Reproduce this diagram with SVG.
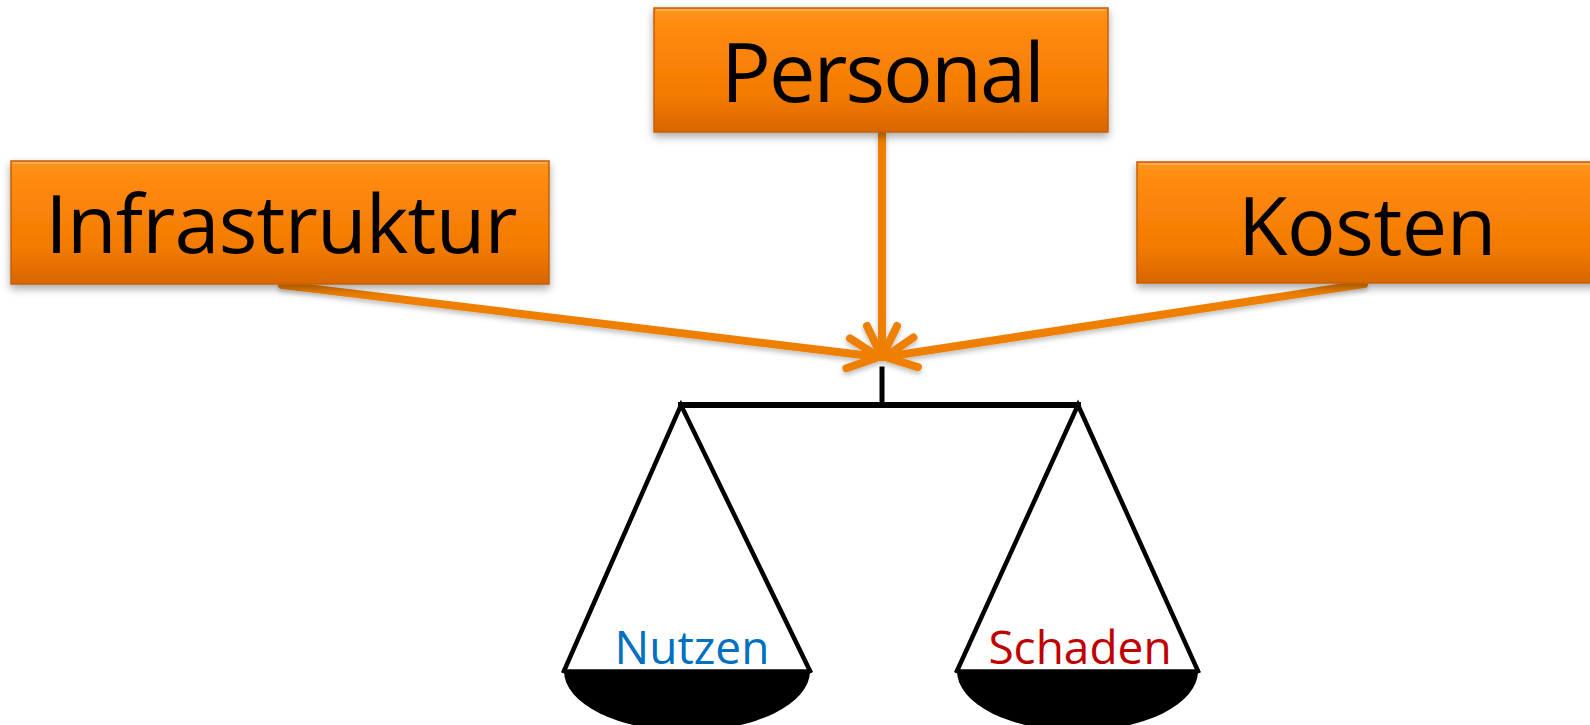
<svg xmlns="http://www.w3.org/2000/svg" width="1590" height="725" viewBox="0 0 1590 725">
  <style>
    .box { fill: url(#boxGrad); stroke: #C65F00; stroke-width: 1.5; filter: url(#shadow); }
    .hl { fill: none; stroke: #FFB060; stroke-width: 2; opacity: 0.8; }
    .lbl { font-family: "Open Sans", "Noto Sans", sans-serif; fill: #000000; text-anchor: middle; }
    .pan-lbl { font-family: "Open Sans", "Noto Sans", sans-serif; font-size: 46px; text-anchor: middle; }
    .conn { fill: none; stroke: #EE7F00; stroke-width: 8; stroke-linecap: round; marker-end: url(#vhead); }
    .scale { fill: none; stroke: #000000; stroke-linecap: square; stroke-linejoin: miter; }
  </style>
  <defs>
    <linearGradient id="boxGrad" x1="0" y1="0" x2="0" y2="1">
      <stop offset="0" stop-color="#FF9520"/>
      <stop offset="0.15" stop-color="#FF8A0C"/>
      <stop offset="0.7" stop-color="#F27B03"/>
      <stop offset="1" stop-color="#D86600"/>
    </linearGradient>
    <filter id="shadow" x="-10%" y="-10%" width="120%" height="130%">
      <feDropShadow dx="0" dy="4" stdDeviation="4" flood-color="#000000" flood-opacity="0.35"/>
    </filter>
    <filter id="lshadow" x="-10%" y="-10%" width="120%" height="130%">
      <feDropShadow dx="0" dy="3" stdDeviation="2.5" flood-color="#000000" flood-opacity="0.25"/>
    </filter>
    <marker id="vhead" markerUnits="userSpaceOnUse" viewBox="-40 -22 46 44" markerWidth="46" markerHeight="44" refX="0" refY="0" orient="auto" overflow="visible">
      <path d="M-31,-15 L0,0 L-31,15" fill="none" stroke="#EE7F00" stroke-width="8" stroke-linecap="round" stroke-linejoin="round"/>
    </marker>
  </defs>
  <rect width="1590" height="725" fill="#FFFFFF"/>

  <g id="connectors" filter="url(#lshadow)">
    <path class="conn" d="M882,134 L882,357"/>
    <path class="conn" d="M282,285 L879,357"/>
    <path class="conn" d="M1364,284 L885,357"/>
  </g>

  <g id="node-personal">
    <rect class="box" x="654" y="8" width="454" height="124"/>
    <path class="hl" d="M656,10 L1106,10"/>
    <text class="lbl" x="882" y="102" font-size="83" letter-spacing="-2">Personal</text>
  </g>

  <g id="node-infrastruktur">
    <rect class="box" x="11" y="161" width="538" height="123"/>
    <path class="hl" d="M13,163 L547,163"/>
    <text class="lbl" x="281" y="253" font-size="81" letter-spacing="-0.8">Infrastruktur</text>
  </g>

  <g id="node-kosten">
    <rect class="box" x="1137" y="162" width="462" height="121"/>
    <path class="hl" d="M1139,164 L1599,164"/>
    <text class="lbl" x="1367" y="255" font-size="81" letter-spacing="-0.5">Kosten</text>
  </g>

  <g id="balance">
    <line class="scale" x1="882" y1="369" x2="882" y2="404" stroke-width="5"/>
    <line class="scale" x1="681" y1="405" x2="1078" y2="405" stroke-width="6"/>
    <path class="scale" d="M564,671 L681,405 L810,671" stroke-width="4.5"/>
    <path class="scale" d="M957,671 L1078,405 L1198,671" stroke-width="4.5"/>
    <path d="M564,671 L810,671 A123,60 0 0 1 564,671 Z" fill="#000000"/>
    <path d="M957,671 L1198,671 A120.5,60 0 0 1 957,671 Z" fill="#000000"/>
    <line class="scale" x1="564" y1="671" x2="810" y2="671" stroke-width="3.5"/>
    <line class="scale" x1="957" y1="671" x2="1198" y2="671" stroke-width="3.5"/>
  </g>

  <g id="pan-labels">
    <text class="pan-lbl" x="692" y="664" fill="#0070C0">Nutzen</text>
    <text class="pan-lbl" x="1080" y="664" fill="#C00000">Schaden</text>
  </g>
</svg>
